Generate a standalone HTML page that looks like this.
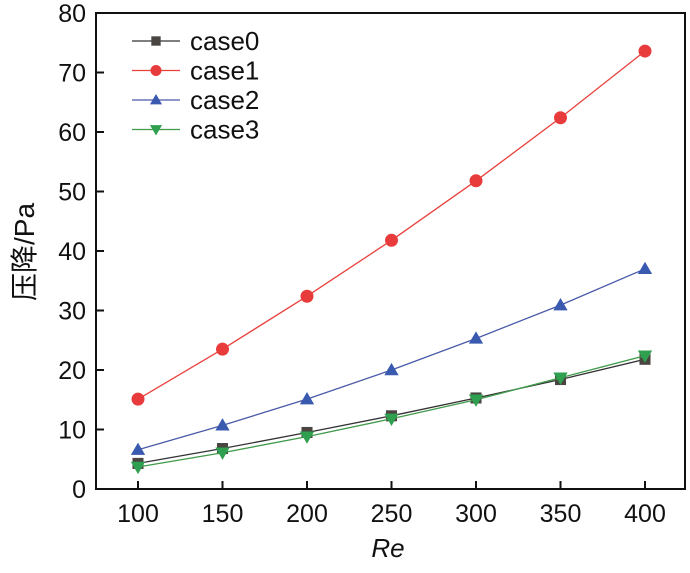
<!DOCTYPE html>
<html><head><meta charset="utf-8"><style>
body{margin:0;background:#fff;}
svg text{font-family:"Liberation Sans","Noto Sans CJK SC",sans-serif;fill:#111;}
</style></head><body>
<svg id="chart" width="690" height="568" xmlns="http://www.w3.org/2000/svg">
<rect x="96" y="13" width="589" height="476" fill="none" stroke="#111" stroke-width="2"/>
<g id="axes"></g>
<g id="series"></g>
<g id="legend"></g>
<text transform="translate(34,252) rotate(-90)" text-anchor="middle" font-size="28">压降/Pa</text>
<text x="388" y="557" text-anchor="middle" font-size="26" font-style="italic">Re</text>
</svg>
<script>
const categories=[100,150,200,250,300,350,400];
const case0=[4.3,6.8,9.5,12.3,15.3,18.4,21.8];
const case1=[15.1,23.5,32.4,41.8,51.8,62.4,73.6];
const case2=[6.6,10.7,15.1,20.0,25.3,30.9,37.0];
const case3=[3.7,6.1,8.8,11.8,15.0,18.7,22.4];
const yTicks=[0,10,20,30,40,50,60,70,80];
const xTicks=[100,150,200,250,300,350,400];
const seriesNames=["case0","case1","case2","case3"];
const NS="http://www.w3.org/2000/svg";
function x(v){return 138+(v-100)*(645-138)/300;}
function y(v){return 489-v*(489-13)/80;}
function mk(t,a,p){const e=document.createElementNS(NS,t);for(const k in a)e.setAttribute(k,a[k]);p.appendChild(e);return e;}
const axes=document.getElementById('axes');
yTicks.forEach(v=>{
 const l=mk('line',{x1:96,x2:104,y1:y(v),y2:y(v),stroke:'#111','stroke-width':2},axes);
 
 
 const t=mk('text',{x:86,y:y(v)+9,'text-anchor':'end','font-size':25},axes);
 t.textContent=v;
 
 
});
xTicks.forEach(v=>{
 const l=mk('line',{x1:x(v),x2:x(v),y1:489,y2:481,stroke:'#111','stroke-width':2},axes);
 
 
 const t=mk('text',{x:x(v),y:522,'text-anchor':'middle','font-size':25},axes);
 t.textContent=v;
 
 
});
const data=[case0,case1,case2,case3];
const lineCol=['#333','#e8413c','#4a5aa8','#3f9a4a'];
const fillCol=['#4a4540','#e83c3c','#3a5ab0','#2fa050'];
const shapes=['square','circle','up','down'];
function marker(g,s,cx,cy,c,r){
 let e;
 if(s==='square')e=mk('rect',{x:cx-r*0.85,y:cy-r*0.85,width:r*1.7,height:r*1.7,fill:c},g);
 else if(s==='circle')e=mk('circle',{cx:cx,cy:cy,r:r,fill:c},g);
 else if(s==='up')e=mk('polygon',{points:`${cx},${cy-r*1.1} ${cx-r*1.1},${cy+r*0.8} ${cx+r*1.1},${cy+r*0.8}`,fill:c},g);
 else e=mk('polygon',{points:`${cx},${cy+r*1.1} ${cx-r*1.1},${cy-r*0.8} ${cx+r*1.1},${cy-r*0.8}`,fill:c},g);
 return e;
}
const sg=document.getElementById('series');
data.forEach((d,i)=>{
 const g=mk('g',{},sg);
 
 
 const pl=mk('polyline',{points:d.map((v,j)=>x(categories[j])+','+y(v)).join(' '),fill:'none',stroke:lineCol[i],'stroke-width':1.3},g);
 
 
 d.forEach((v,j)=>{
  const m=marker(g,shapes[i],x(categories[j]),y(v),fillCol[i],6.5);
  
  
 });
});
const lg=document.getElementById('legend');
seriesNames.forEach((n,i)=>{
 const cy=41+i*29.5;
 const g=mk('g',{},lg);
 
 
 mk('line',{x1:132,x2:180,y1:cy,y2:cy,stroke:lineCol[i],'stroke-width':1.3},g);
 marker(g,shapes[i],156,cy,fillCol[i],5.5);
 const t=mk('text',{x:190,y:cy+9,'font-size':26},g);
 t.textContent=n;
});
</script>
</body></html>
